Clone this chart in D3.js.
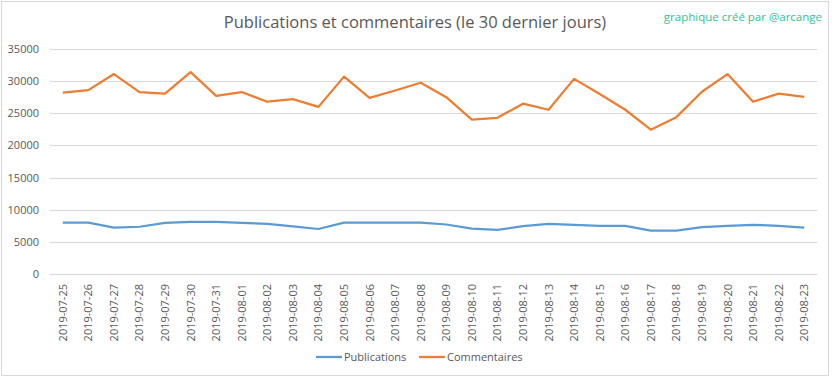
<!DOCTYPE html>
<html>
<head>
<meta charset="utf-8">
<script src="https://cdn.jsdelivr.net/npm/d3@7"></script>
<style>
  body { margin: 0; background: #fff; }
  text { font-family: "Open Sans", sans-serif; fill: #595959; }
</style>
</head>
<body>
<div id="chart"></div>
<script>
var w = 832, h = 378;

var dates = ["2019-07-25","2019-07-26","2019-07-27","2019-07-28","2019-07-29","2019-07-30","2019-07-31",
  "2019-08-01","2019-08-02","2019-08-03","2019-08-04","2019-08-05","2019-08-06","2019-08-07","2019-08-08",
  "2019-08-09","2019-08-10","2019-08-11","2019-08-12","2019-08-13","2019-08-14","2019-08-15","2019-08-16",
  "2019-08-17","2019-08-18","2019-08-19","2019-08-20","2019-08-21","2019-08-22","2019-08-23"];

var publications = [8000,8000,7200,7350,7950,8100,8100,7950,7800,7400,7000,8000,8000,8000,8000,
  7700,7050,6850,7450,7800,7650,7500,7500,6750,6750,7300,7500,7650,7500,7200];

var commentaires = [28200,28600,31100,28300,28050,31400,27700,28300,26800,27200,26000,30700,27400,28550,29750,
  27500,24000,24300,26500,25550,30350,28000,25550,22450,24400,28350,31100,26800,28050,27550];

var yTicks = [0,5000,10000,15000,20000,25000,30000,35000];

var series = [
  {name: "Publications", values: publications, color: "#5b9bd5"},
  {name: "Commentaires", values: commentaires, color: "#ed7d31"}
];

var margin = {left: 50, right: 15, top: 49, bottom: 104};

var svg = d3.select("#chart").append("svg")
    .attr("width", w)
    .attr("height", h)

// chart border
svg.append("rect")
    .attr("x", 1.5).attr("y", 1.5)
    .attr("width", w - 5).attr("height", h - 4)
    .attr("fill", "#fff")
    .attr("stroke", "#d9d9d9");

var x = d3.scaleBand().domain(dates).range([margin.left, w - margin.right]);
var y = d3.scaleLinear().domain([0, 35000]).range([h - margin.bottom, margin.top]);

// grid lines
svg.append("g")
  .selectAll("line")
  .data(yTicks)
  .enter().append("line")
    .attr("x1", margin.left)
    .attr("x2", w - margin.right)
    .attr("y1", function(d){ return Math.round(y(d)) + 0.5; })
    .attr("y2", function(d){ return Math.round(y(d)) + 0.5; })
    .attr("stroke", "#d9d9d9");

// y axis labels
var yAxis = svg.append("g")
    .attr("transform", "translate(" + (margin.left - 11) + ",0)")
    .call(d3.axisLeft(y).tickValues(yTicks).tickSize(0).tickPadding(0).tickFormat(d3.format("d")));
yAxis.select(".domain").remove();
yAxis.selectAll("text")
    .attr("font-size", 11)
    .attr("font-family", "Open Sans, sans-serif")
    .attr("fill", "#595959");

// x axis labels (vertical)
var xAxis = svg.append("g")
    .attr("transform", "translate(0," + (h - margin.bottom) + ")")
    .call(d3.axisBottom(x).tickSize(0).tickPadding(0));
xAxis.select(".domain").remove();
xAxis.selectAll("text")
    .attr("font-size", 11)
    .attr("font-family", "Open Sans, sans-serif")
    .attr("fill", "#595959")
    .attr("text-anchor", "end")
    .attr("dy", null)
    .attr("transform", "translate(4,10) rotate(-90)");

var line = d3.line()
    .x(function(d, i){ return x(dates[i]) + x.bandwidth() / 2; })
    .y(function(d){ return y(d); });

svg.selectAll(".series")
  .data(series)
  .enter().append("path")
    .attr("class", "series")
    .attr("d", function(d){ return line(d.values); })
    .attr("fill", "none")
    .attr("stroke", function(d){ return d.color; })
    .attr("stroke-width", 2.25)
    .attr("stroke-linejoin", "round");

// title
svg.append("text")
    .attr("x", 415)
    .attr("y", 28)
    .attr("text-anchor", "middle")
    .attr("font-size", 16.5)
    .text("Publications et commentaires (le 30 dernier jours)");

svg.append("text")
    .attr("x", 822)
    .attr("y", 21)
    .attr("text-anchor", "end")
    .attr("font-size", 11.5)
    .style("fill", "#2cc39a")
    .text("graphique créé par @arcange");

// legend
var legendX = [316, 419];
var legend = svg.selectAll(".legend")
  .data(series)
  .enter().append("g")
    .attr("class", "legend")
    .attr("transform", function(d, i){ return "translate(" + legendX[i] + ",357)"; });
legend.append("line")
    .attr("x1", 0).attr("x2", 26)
    .attr("stroke", function(d){ return d.color; })
    .attr("stroke-width", 2.25);
legend.append("text")
    .attr("x", 28)
    .attr("dy", "0.35em")
    .attr("font-size", 11)
    .text(function(d){ return d.name; });
</script>
</body>
</html>
